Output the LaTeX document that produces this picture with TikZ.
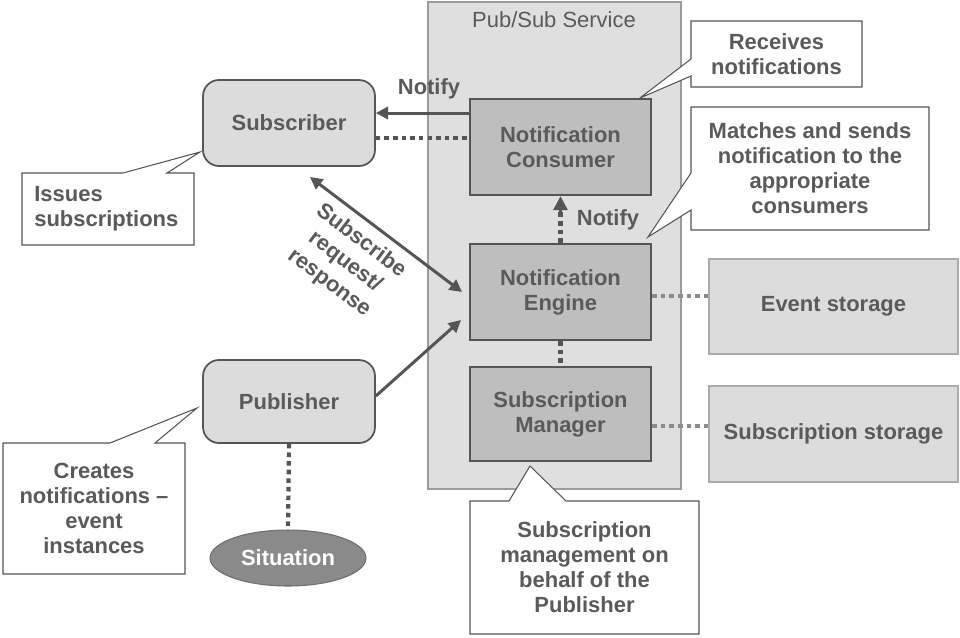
\documentclass[tikz,border=0pt]{standalone}
\usepackage{fontspec}
\setmainfont{Liberation Sans}
\usetikzlibrary{shapes.geometric,arrows.meta}
\definecolor{txt}{HTML}{5A5A5A}
\definecolor{lfill}{HTML}{DCDCDC}
\definecolor{svcfill}{HTML}{DFDFDF}
\definecolor{svcline}{HTML}{9C9C9C}
\definecolor{dfill}{HTML}{BEBEBE}
\definecolor{dline}{HTML}{555555}
\definecolor{stline}{HTML}{ABABAB}
\definecolor{sitfill}{HTML}{8A8A8A}
\definecolor{lightdot}{HTML}{8C8C8C}
\begin{document}
\begin{tikzpicture}[x=0.02cm,y=-0.02cm,
  font=\fontsize{12.5}{14.2}\selectfont\bfseries, text=txt,
  every node/.style={inner sep=0pt, align=center},
  roundbox/.style={draw=dline, fill=lfill, line width=1pt, rounded corners=0.32cm, minimum width=3.44cm},
  darkbox/.style={draw=dline, fill=dfill, line width=1.3pt, minimum width=3.62cm},
  storebox/.style={draw=stline, fill=lfill, line width=1pt, minimum width=4.98cm},
  callout/.style={draw=dline, fill=white, line width=0.6pt, line join=miter},
  arr/.style={draw=dline, line width=1.7pt, -{Triangle[length=7pt,width=7pt]}},
  darr/.style={draw=dline, line width=1.7pt, {Triangle[length=7pt,width=7pt]}-{Triangle[length=7pt,width=7pt]}},
  dots/.style={draw=dline, line width=2.4pt, dash pattern=on 2.6pt off 2.3pt},
  ldots/.style={draw=lightdot, line width=2.4pt, dash pattern=on 2.6pt off 2.3pt}
]
\useasboundingbox (0,0) rectangle (960,637);

% Pub/Sub service container
\node[draw=svcline, fill=svcfill, line width=0.8pt, minimum width=5.06cm, minimum height=9.74cm] (svc) at (554.5,245.5) {};
\node[font=\fontsize{12.5}{14.2}\selectfont] (svct) at (554,20) {Pub/Sub Service};

% main boxes
\node[roundbox, minimum height=1.72cm] (sub) at (289,123) {Subscriber};
\node[roundbox, minimum height=1.66cm] (pub) at (289,401.5) {Publisher};
\node[darkbox, minimum height=1.92cm] (nc) at (560.5,147) {Notification\\Consumer};
\node[darkbox, minimum height=1.92cm] (ne) at (560.5,292) {Notification\\Engine};
\node[darkbox, minimum height=1.88cm] (sm) at (560.5,414) {Subscription\\Manager};
\node[storebox, minimum height=1.9cm] (es) at (833.5,306.5) {Event storage};
\node[storebox, minimum height=1.92cm] (ss) at (833.5,434) {Subscription storage};
\node[ellipse, draw=sitfill!80!black, line width=0.6pt, fill=sitfill, minimum width=3.12cm, minimum height=1.12cm, text=white] (sit) at (288,558) {Situation};

% callouts
\draw[callout] (691,21) -- (862,21) -- (862,87) -- (691,87) -- (691,76) -- (640,98) -- (691,59) -- cycle;
\node (c1) at (776.5,54) {Receives\\notifications};
\draw[callout] (691,107) -- (929,107) -- (929,230) -- (691,230) -- (691,210) -- (648,237) -- (691,173) -- cycle;
\node (c2) at (810,168.5) {Matches and sends\\notification to the\\appropriate\\consumers};
\draw[callout] (22,173) -- (123,173) -- (200,152) -- (167,173) -- (194,173) -- (194,245) -- (22,245) -- cycle;
\node[anchor=west, align=left] (c3) at (34,209) {Issues\\subscriptions};
\draw[callout] (3,443) -- (110,443) -- (197,408) -- (155,443) -- (185,443) -- (185,574) -- (3,574) -- cycle;
\node (c4) at (94,508.5) {Creates\\notifications --\\event\\instances};
\draw[callout] (470,501) -- (509,501) -- (530,466) -- (566,501) -- (699,501) -- (699,634) -- (470,634) -- cycle;
\node (c5) at (584.5,567.5) {Subscription\\management on\\behalf of the\\Publisher};

% connectors
\draw[arr] (nc.west |- 0,113) -- (sub.east |- 0,113);
\node (n1) at (429,89) {Notify};
\draw[dots] (sub.east |- 0,138) -- (nc.west |- 0,138);

\draw[dots] (ne.north) -- (nc.south |- 0,212);
\draw[draw=dline, line width=1.6pt, -{Triangle[length=8pt,width=8pt]}] (nc.south |- 0,214) -- (nc.south);
\node (n2) at (608,220) {Notify};

\coordinate (s1) at (310,177);
\coordinate (s2) at (462,292);
\draw[darr] (s1) -- (s2);
\node[rotate=-37, font=\fontsize{12.5}{15}\selectfont\bfseries] (sr) at (345,262) {Subscribe\\request/\\response};

\coordinate (pe) at (461,320);
\draw[arr] (pub.east |- 0,396) -- (pe);

\draw[dots] (ne.south) -- (sm.north);
\draw[ldots] (ne.east |- 0,296) -- (es.west |- 0,296);
\draw[ldots] (sm.east |- 0,426) -- (ss.west |- 0,426);
\draw[dots] (pub.south) -- (sit.north);
\end{tikzpicture}
\end{document}
